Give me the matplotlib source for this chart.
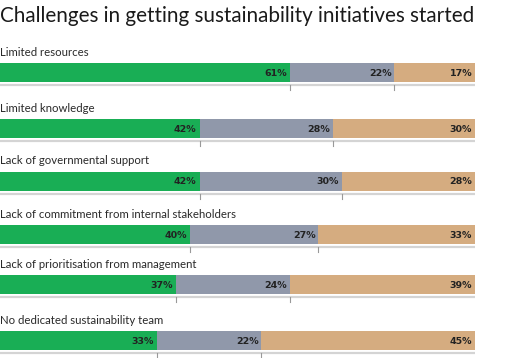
import matplotlib.pyplot as plt
import numpy as np

# data
categories = [
    "Limited resources",
    "Limited knowledge",
    "Lack of governmental support",
    "Lack of commitment from internal stakeholders",
    "Lack of prioritisation from management",
    "No dedicated sustainability team",
]
green_vals = [61, 42, 42, 40, 37, 33]
gray_vals = [22, 28, 30, 27, 24, 22]
tan_vals = [17, 30, 28, 33, 39, 45]

colors = ['#19ae55', '#9098aa', '#d5ac80']
bar_tops = [63, 119, 172, 225, 275, 331]  # pixel layout of each row
bar_h = 19

W, H = 505, 358
fig = plt.figure(figsize=(W / 100, H / 100), dpi=100)
ax = fig.add_axes([0, 0, 475 / W, 1])
ax.set_xlim(0, 100)
ax.set_ylim(H, 0)
ax.axis('off')

fig.text(0.0, 1 - 16 / H, "Challenges in getting sustainability initiatives started",
         fontsize=14.9, family='Lato', color='#1a1a1a', va='center', ha='left')

series = [green_vals, gray_vals, tan_vals]
for i, cat in enumerate(categories):
    yc = bar_tops[i] + bar_h / 2
    ax.text(0, bar_tops[i] - 11, cat, fontsize=8.2, family='Lato',
            color='#2a2a2a', va='center', ha='left')
    left = 0
    for s, vals in enumerate(series):
        v = vals[i]
        ax.barh(yc, v, left=left, height=bar_h, color=colors[s], linewidth=0)
        ax.text(left + v - 0.6, yc + 0.5, f"{v}%", fontsize=6.8, fontweight='bold',
                family='DejaVu Sans', color='#222222', ha='right', va='center')
        left += v
    # baseline with ticks at segment boundaries
    base = bar_tops[i] + bar_h + 2.5
    ax.plot([0, 100], [base, base], color='#d4d4d4', lw=1.6, solid_capstyle='butt')
    for b in np.cumsum([green_vals[i], gray_vals[i]]):
        ax.plot([b, b], [base, base + 5], color='#999999', lw=0.8)

fig.savefig('out.png', dpi=100)
